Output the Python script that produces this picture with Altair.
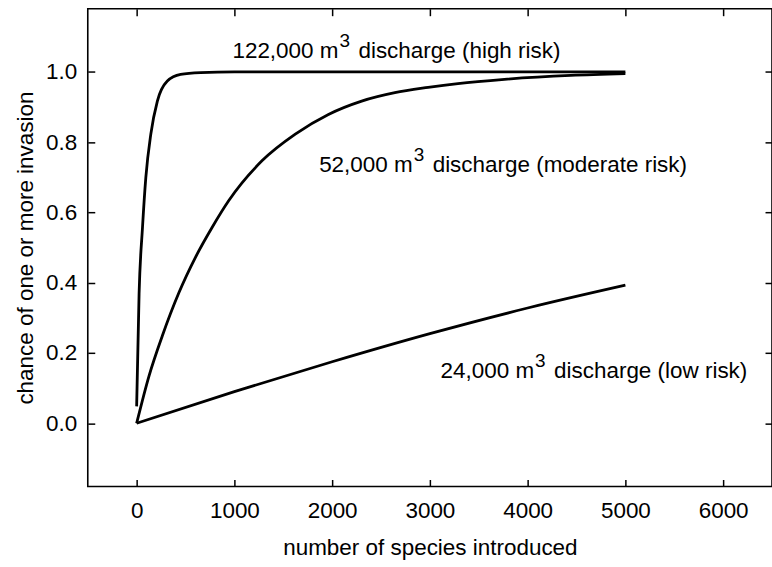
import altair as alt
import pandas as pd

# ---- data ----
high_n = [0, 25, 60, 94, 145, 212, 314, 450, 654, 1000, 2000, 3000, 4000, 5000]
high_p = [0.048, 0.369, 0.558, 0.70, 0.823, 0.917, 0.974, 0.993, 0.998, 1.0, 1.0, 1.0, 1.0, 1.0]

mod_n = [0, 127, 263, 433, 603, 773, 943, 1282, 1623, 1962, 2302, 2642, 2982, 3287, 3763, 4440, 5000]
mod_p = [0.0, 0.135, 0.249, 0.372, 0.473, 0.558, 0.634, 0.747, 0.823, 0.879, 0.917, 0.941, 0.956, 0.967, 0.979, 0.990, 0.995]

low_n = [0, 1000, 2000, 3000, 4000, 5000]
low_p = [0.0, 0.09, 0.175, 0.255, 0.328, 0.393]

# annotation pieces: "<head>" + superscript "3" + "<tail>"
label_head = ["122,000 m", "52,000 m", "24,000 m"]
label_sup = ["3", "3", "3"]
label_tail = ["discharge (high risk)", "discharge (moderate risk)", "discharge (low risk)"]
label_n = [980, 1867, 3109]
label_p = [1.041, 0.714, 0.13]

x_ticks = [0, 1000, 2000, 3000, 4000, 5000, 6000]
y_ticks = [0.0, 0.2, 0.4, 0.6, 0.8, 1.0]

df = pd.concat([
    pd.DataFrame({"n": high_n, "p": high_p, "series": "high"}),
    pd.DataFrame({"n": mod_n, "p": mod_p, "series": "moderate"}),
    pd.DataFrame({"n": low_n, "p": low_p, "series": "low"}),
], ignore_index=True)

W, H = 686, 479
FONT = "Liberation Sans"
FS = 22.5
SUP_FS = 19

# Arial / Liberation Sans advance widths (em) for the head strings
ADV = {"0": .556, "1": .556, "2": .556, "3": .556, "4": .556, "5": .556,
       ",": .278, " ": .278, "m": .833}
head_w = [sum(ADV[c] for c in s) * FS for s in label_head]

ann = pd.DataFrame({
    "n": label_n, "p": label_p,
    "head": label_head, "sup": label_sup, "tail": label_tail,
})

xs = alt.Scale(domain=[-500, 6500], nice=False, zero=False)
ys = alt.Scale(domain=[-0.18, 1.18], nice=False, zero=False)

lines = alt.Chart(df).mark_line(color="black", strokeWidth=2.8, interpolate="monotone").encode(
    x=alt.X("n:Q", scale=xs, axis=alt.Axis(
        values=x_ticks, format="d", title="number of species introduced",
        ticks=False, tickSize=0, domain=False, grid=False,
        labelPadding=13, labelFontSize=FS, titleFontSize=FS, titlePadding=15)),
    y=alt.Y("p:Q", scale=ys, axis=alt.Axis(
        values=y_ticks, format=".1f", title="chance of one or more invasion",
        ticks=False, tickSize=0, domain=False, grid=False,
        labelPadding=11, labelFontSize=FS, titleFontSize=FS, titlePadding=8)),
    detail="series:N",
)

# head text carries the inward ticks on bottom / left edges
head = alt.Chart(ann).mark_text(align="left", baseline="alphabetic", fontSize=FS,
                                font=FONT, color="black").encode(
    x=alt.X("n:Q", scale=xs, axis=alt.Axis(
        orient="top", offset=-H, values=x_ticks, labels=False, title=None,
        domain=False, grid=False, tickSize=7, tickWidth=1.5, tickColor="black")),
    y=alt.Y("p:Q", scale=ys, axis=alt.Axis(
        orient="right", offset=-W, values=y_ticks, labels=False, title=None,
        domain=False, grid=False, tickSize=7, tickWidth=1.5, tickColor="black")),
    text="head:N",
)

sup_layers = []
tail_layers = []
for i in range(len(label_head)):
    row = ann.iloc[[i]]
    sup_layers.append(
        alt.Chart(row).mark_text(align="left", baseline="alphabetic", fontSize=SUP_FS,
                                 font=FONT, color="black", dx=head_w[i] + 1, dy=-11).encode(
            x=alt.X("n:Q", scale=xs, axis=None),
            y=alt.Y("p:Q", scale=ys, axis=None),
            text="sup:N"))
    tail_layers.append(
        alt.Chart(row).mark_text(align="left", baseline="alphabetic", fontSize=FS,
                                 font=FONT, color="black", dx=head_w[i] + 20).encode(
            x=alt.X("n:Q", scale=xs, axis=None),
            y=alt.Y("p:Q", scale=ys, axis=None),
            text="tail:N"))

# invisible layer carries the inward ticks on top / right edges
ghost = alt.Chart(df).mark_point(opacity=0).encode(
    x=alt.X("n:Q", scale=xs, axis=alt.Axis(
        orient="bottom", offset=-H, values=x_ticks, labels=False, title=None,
        domain=False, grid=False, tickSize=7, tickWidth=1.5, tickColor="black")),
    y=alt.Y("p:Q", scale=ys, axis=alt.Axis(
        orient="left", offset=-W, values=y_ticks, labels=False, title=None,
        domain=False, grid=False, tickSize=7, tickWidth=1.5, tickColor="black")),
)

chart = alt.layer(lines, head, ghost, *sup_layers, *tail_layers).resolve_axis(
    x="independent", y="independent"
).properties(
    width=W, height=H,
    padding={"left": 88, "top": 8, "right": 0, "bottom": 80},
    autosize="none",
    background="white",
).configure_view(
    stroke="black", strokeWidth=1.6
).configure_axis(
    labelFont=FONT, titleFont=FONT, labelColor="black", titleColor="black",
    titleFontWeight="normal"
)

chart.save("out.html", embed_options={"renderer": "svg", "actions": False})
